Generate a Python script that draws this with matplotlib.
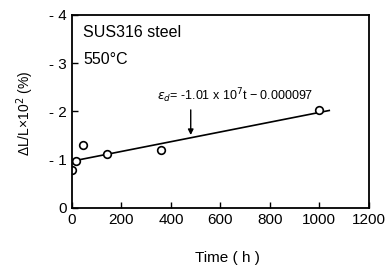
import numpy as np
import matplotlib
matplotlib.use('Agg')
import matplotlib.pyplot as plt

# measured points (time in h, dL/L x10^2 in %)
time_h = [0, 15, 43, 140, 358, 1000]
strain = [-0.79, -0.97, -1.31, -1.12, -1.20, -2.03]

# fitted line  eps_d = -1.01e-7 t - 0.000097  (scaled to %, x10^2)
slope = -1.01e-3
intercept = -0.97
fit_range = [15, 1040]

xticks = [0, 200, 400, 600, 800, 1000, 1200]
yticks = [0, -1, -2, -3, -4]

plt.rcParams['font.family'] = ['Liberation Sans', 'DejaVu Sans']

fig = plt.figure(figsize=(3.85, 2.67), dpi=100)
ax = fig.add_axes([0.187, 0.221, 0.771, 0.723])

t_line = np.array(fit_range)
ax.plot(t_line, slope * t_line + intercept, color='black', linewidth=1.2)
ax.plot(time_h, strain, 'o', markerfacecolor='white', markeredgecolor='black',
        markersize=5.5, markeredgewidth=1.2)

ax.set_xlim(0, 1200)
ax.set_ylim(0, -4)
ax.set_xticks(xticks)
ax.set_xticklabels([str(v) for v in xticks])
ax.set_yticks(yticks)
ax.set_yticklabels(['0', '- 1', '- 2', '- 3', '- 4'])
ax.tick_params(direction='in', length=4, width=1, labelsize=11)
for s in ax.spines.values():
    s.set_linewidth(1.3)

ax.text(45, -3.63, 'SUS316 steel', fontsize=11.5, va='center')
ax.text(45, -3.07, '550°C', fontsize=11.5, va='center')

t_arrow = 480
ax.annotate('', xy=(t_arrow, slope * t_arrow + intercept), xytext=(t_arrow, -2.09),
            arrowprops=dict(arrowstyle='-|>', color='black', lw=1, mutation_scale=8))
ax.text(345, -2.32, r'$\epsilon_d$= -1.01 x 10$^7$t − 0.000097', fontsize=9, va='center')

fig.text(227 / 385, 1 - 258 / 267, 'Time ( h )', fontsize=11, ha='center', va='center')
fig.text(25 / 385, 1 - 113 / 267, 'ΔL/L×10$^2$ (%)', fontsize=10, ha='center', va='center',
         rotation=90)

fig.savefig('out.png', dpi=100)
